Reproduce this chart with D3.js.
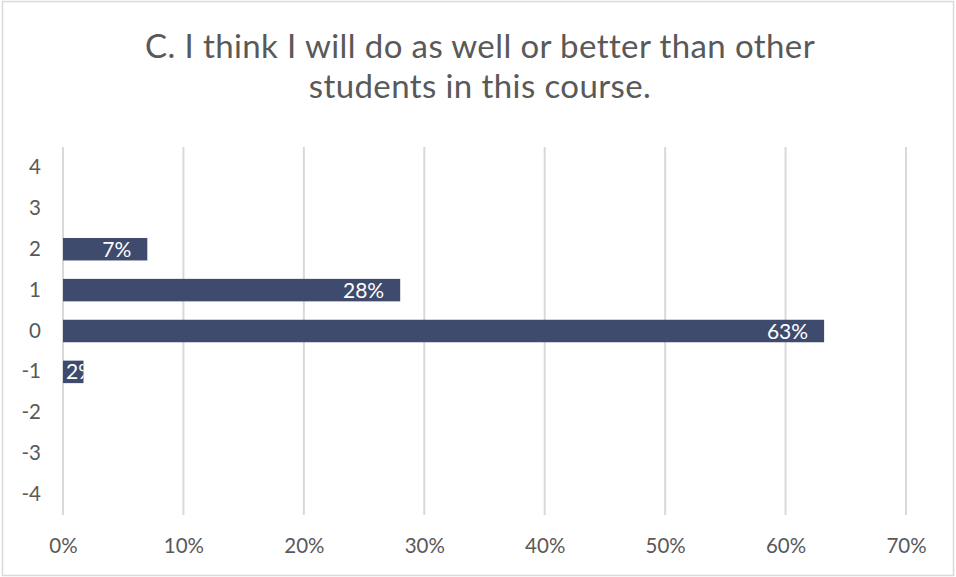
<!DOCTYPE html>
<html><head><meta charset="utf-8">
<script src="https://cdn.jsdelivr.net/npm/d3@7"></script>
<style>body{margin:0;background:#fff}svg{display:block}text{font-family:Lato,"Open Sans",sans-serif}</style>
</head><body><svg id="c" width="956" height="577"></svg>
<script>
const titleLines = ["C. I think I will do as well or better than other", "students in this course."];
const categories = ["4","3","2","1","0","-1","-2","-3","-4"];
const values = [null, null, 0.07, 0.28, 0.632, 0.017, null, null, null];
const labels = [null, null, "7%", "28%", "63%", "2%", null, null, null];
const xTicks = [0,0.1,0.2,0.3,0.4,0.5,0.6,0.7];

const svg = d3.select("#c");
const W = 956, H = 577;
const m = {l:63, r:50, t:147, b:62};
svg.append("rect").attr("x",2.5).attr("y",1.5).attr("width",951).attr("height",574)
  .attr("fill","#fff").attr("stroke","#d9d9d9").attr("stroke-width",1.5);

const x = d3.scaleLinear().domain([0,0.7]).range([m.l, W-m.r]);
const y = d3.scaleBand().domain(categories).range([m.t, H-m.b]).paddingInner(0.45).paddingOuter(0.225);

svg.append("g").selectAll("line").data(xTicks).join("line")
  .attr("x1",d=>x(d)).attr("x2",d=>x(d)).attr("y1",m.t).attr("y2",H-m.b)
  .attr("stroke","#d9d9d9").attr("stroke-width",2);

const xAxis = svg.append("g").attr("transform",`translate(0,${H-m.b})`)
  .call(d3.axisBottom(x).tickValues(xTicks).tickFormat(d3.format(".0%")).tickSize(0).tickPadding(23));
xAxis.select(".domain").remove();
xAxis.selectAll("text").attr("fill","#595959").attr("font-size",20.5);

const yAxis = svg.append("g").attr("transform",`translate(${m.l-22},0)`)
  .call(d3.axisLeft(y).tickSize(0).tickPadding(0));
yAxis.select(".domain").remove();
yAxis.selectAll("text").attr("fill","#595959").attr("font-size",20.5);

const data = categories.map((c,i)=>({c, v:values[i], l:labels[i], i})).filter(d=>d.v!=null);
const defs = svg.append("defs");
defs.selectAll("clipPath").data(data).join("clipPath").attr("id",d=>"cp"+d.i)
  .append("rect").attr("x",x(0)).attr("y",d=>y(d.c)).attr("width",d=>x(d.v)-x(0)).attr("height",y.bandwidth());

svg.append("g").selectAll("rect").data(data).join("rect")
  .attr("x",x(0)).attr("y",d=>y(d.c)).attr("width",d=>x(d.v)-x(0)).attr("height",y.bandwidth())
  .attr("fill","#3e4b6d");

svg.append("g").selectAll("text").data(data).join("text")
  .attr("clip-path",d=>`url(#cp${d.i})`)
  .attr("x",function(d){ return x(d.v)-16; })
  .attr("y",d=>y(d.c)+y.bandwidth()/2)
  .attr("dy","0.36em").attr("text-anchor","end")
  .attr("fill","#fff").attr("font-size",21)
  .text(d=>d.l)
  .each(function(d){
    const w = this.getComputedTextLength();
    if (x(d.v)-16-w < x(0)+3) { d3.select(this).attr("text-anchor","start").attr("x", x(0)+3); }
  });

svg.append("g").selectAll("text").data(titleLines).join("text")
  .attr("x",W/2+2).attr("y",(d,i)=>58+i*40).attr("text-anchor","middle")
  .attr("fill","#595959").attr("font-size",33).attr("letter-spacing",0.4).text(d=>d);
</script></body></html>
